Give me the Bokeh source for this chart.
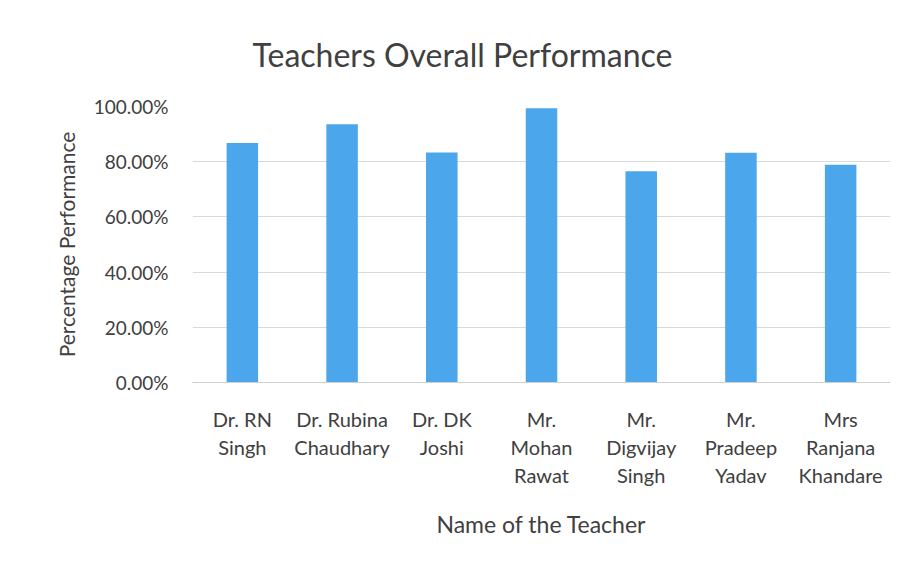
from bokeh.plotting import figure
from bokeh.models import NumeralTickFormatter, FixedTicker
from bokeh.embed import file_html
from bokeh.resources import INLINE

teachers = ["Dr. RN\nSingh", "Dr. Rubina\nChaudhary", "Dr. DK\nJoshi",
            "Mr.\nMohan\nRawat", "Mr.\nDigvijay\nSingh", "Mr.\nPradeep\nYadav",
            "Mrs\nRanjana\nKhandare"]
performance = [0.868, 0.936, 0.833, 0.994, 0.765, 0.832, 0.789]
y_ticks = [0.0, 0.2, 0.4, 0.6, 0.8, 1.0]

FONT = "Lato"
TXT = "#404040"

p = figure(x_range=teachers, y_range=(0, 1.0), width=898, height=554,
           output_backend="svg", toolbar_location=None,
           min_border_left=192, min_border_right=8, min_border_top=106, min_border_bottom=172,
           title="Teachers Overall Performance")
p.vbar(x=teachers, top=performance, width=0.316, color="#4BA6EC", line_color=None)

p.title.text_font = FONT
p.title.text_font_size = "32px"
p.title.text_font_style = "normal"
p.title.text_color = TXT
p.title.align = "left"
p.title.offset = 60
p.title.standoff = 65

p.outline_line_color = None
p.background_fill_color = "white"
p.border_fill_color = "white"

p.xgrid.grid_line_color = None
p.ygrid.grid_line_color = "#d9d9d9"
p.ygrid.grid_line_width = 1

p.yaxis.ticker = FixedTicker(ticks=y_ticks)
p.yaxis.formatter = NumeralTickFormatter(format="0.00%")
p.yaxis.axis_line_color = None
p.yaxis.major_tick_line_color = None
p.yaxis.minor_tick_line_color = None
p.yaxis.major_label_standoff = 18
p.yaxis.major_label_text_font = FONT
p.yaxis.major_label_text_font_size = "19px"
p.yaxis.major_label_text_color = TXT
p.yaxis.axis_label = "Percentage Performance"
p.yaxis.axis_label_text_font = FONT
p.yaxis.axis_label_text_font_size = "21px"
p.yaxis.axis_label_text_font_style = "normal"
p.yaxis.axis_label_text_color = TXT
p.yaxis.axis_label_standoff = 12

p.xaxis.axis_line_color = "#d0d0d0"
p.xaxis.major_tick_line_color = None
p.xaxis.minor_tick_line_color = None
p.xaxis.major_label_standoff = 18
p.xaxis.major_label_text_font = FONT
p.xaxis.major_label_text_font_size = "20px"
p.xaxis.major_label_text_color = TXT
p.xaxis.major_label_text_line_height = 1.17
p.xaxis.axis_label = "Name of the Teacher"
p.xaxis.axis_label_text_font = FONT
p.xaxis.axis_label_text_font_size = "23px"
p.xaxis.axis_label_text_font_style = "normal"
p.xaxis.axis_label_text_color = TXT
p.xaxis.axis_label_standoff = 20

open("out.html", "w").write(file_html(p, INLINE))
